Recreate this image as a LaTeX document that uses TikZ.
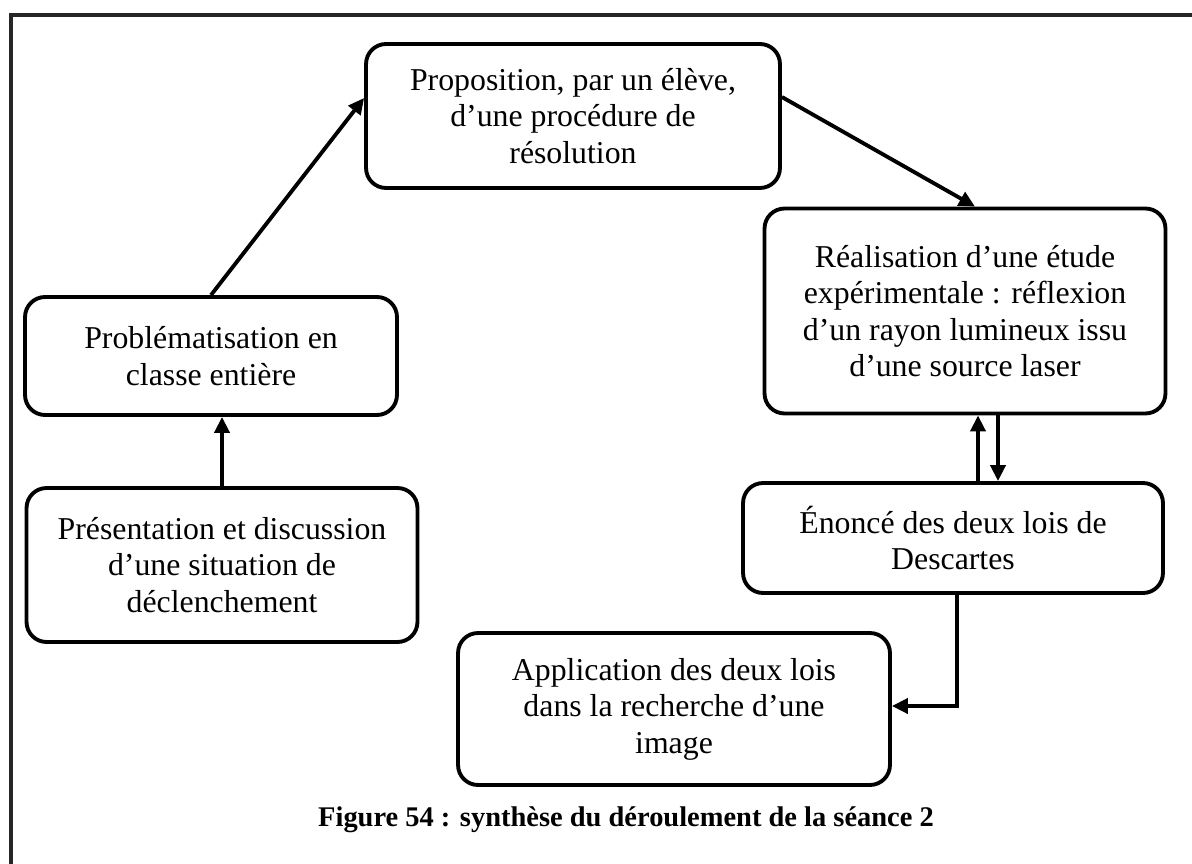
\documentclass[tikz,border=0pt]{standalone}
\usepackage{fontspec}
\setmainfont{Liberation Serif}
\usetikzlibrary{arrows.meta, positioning}
\tikzset{
	etape/.style   ={rectangle, rounded corners=0.4cm, draw=black, line width=2.2pt, align=center, inner sep=0pt, font=\fontsize{18.1}{20.8}\selectfont},
	fleche/.style  ={-{Triangle[length=3.2mm, width=3mm]}, line width=2.2pt},
	% cadre et legende
	cadre/.style   ={line width=2.2pt, draw=black!85},
	legende/.style ={font=\bfseries\fontsize{16.2}{19}\selectfont},
}

\begin{document}
\begin{tikzpicture}[x=0.02cm, y=-0.02cm]
	\useasboundingbox (0,0) rectangle (1192,864);
	\draw[cadre] (11,864) -- (11,15) -- (1192,15);
	\node[etape, minimum width=8.28cm, minimum height=2.88cm] (prop) at (573,116) {Proposition, par un élève,\\d’une procédure de\\résolution};
	\node[etape, minimum width=7.44cm, minimum height=2.36cm] (pb) at (211,356) {Problématisation en\\classe entière};
	\node[etape, minimum width=7.82cm, minimum height=3.08cm] (pres) at (222,565) {Présentation et discussion\\d’une situation de\\déclenchement};
	\node[etape, minimum width=8.02cm, minimum height=4.1cm] (etude) at (965,311) {Réalisation d’une étude\\expérimentale : réflexion\\d’un rayon lumineux issu\\d’une source laser};
	\node[etape, minimum width=8.4cm, minimum height=2.2cm] (lois) at (953,538) {Énoncé des deux lois de\\Descartes};
	\node[etape, minimum width=8.64cm, minimum height=3.04cm] (appli) at (674,709) {Application des deux lois\\dans la recherche d’une\\image};
	\node[legende] (titre) at (626,820) {Figure 54 : synthèse du déroulement de la séance 2};
	\draw[fleche] (pres.north) -- (pres.north |- pb.south);
	\draw[fleche] (pb.north) -- ([yshift=0.36cm]prop.west);
	\draw[fleche] ([yshift=0.38cm]prop.east) -- ([xshift=0.2cm]etude.north);
	\draw[fleche] ([xshift=0.5cm]lois.north) -- ([xshift=0.5cm]lois.north |- etude.south);
	\draw[fleche] ([xshift=0.9cm]lois.north |- etude.south) -- ([xshift=0.9cm]lois.north);
	\draw[fleche] ([xshift=0.08cm]lois.south) |- ([yshift=0.06cm]appli.east);
\end{tikzpicture}
\end{document}
